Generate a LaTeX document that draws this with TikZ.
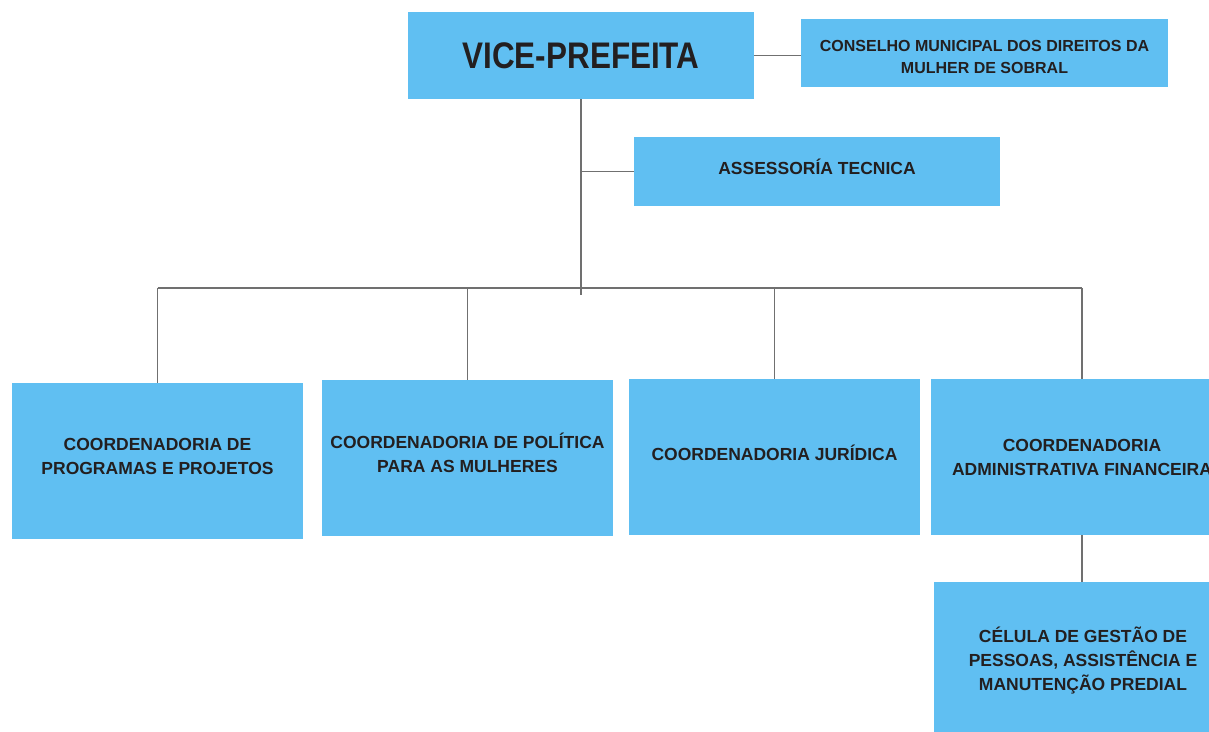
\documentclass[tikz,border=0pt]{standalone}
\usepackage{fontspec}
\setmainfont{Liberation Sans}
\newfontfamily\headfont[FakeStretch=0.85]{Liberation Sans}
\definecolor{boxblue}{RGB}{96,191,242}
\definecolor{linegray}{RGB}{112,112,112}
\definecolor{inkdark}{RGB}{35,31,32}
\tikzset{
	orgbox/.style={fill=boxblue, inner sep=0pt, align=center, text=inkdark,
		font=\bfseries\fontsize{17.5}{24}\selectfont},
	link/.style={draw=linegray, line width=1.3pt},
}

\begin{document}
\begin{tikzpicture}[x=1pt,y=-1pt]
	\clip (0,0) rectangle (1209,731);
	\fill[white] (0,0) rectangle (1209,731);
	% top
	\node[orgbox, minimum width=346pt, minimum height=87pt] (vp) at (581,55.5)
		{\headfont\bfseries\fontsize{37}{40}\selectfont VICE-PREFEITA};
	\node[orgbox, minimum width=367pt, minimum height=68pt, text height=41pt, font=\bfseries\fontsize{16}{22}\selectfont] (cons) at (984.5,53)
		{CONSELHO MUNICIPAL DOS DIREITOS DA\\MULHER DE SOBRAL};
	\node[orgbox, minimum width=366pt, minimum height=69pt, text depth=10pt] (asse) at (817,171.5) {ASSESSOR\'IA TECNICA};
	% coordenadorias
	\node[orgbox, minimum width=291pt, minimum height=156pt, text depth=9pt] (prog) at (157.5,461) {COORDENADORIA DE\\PROGRAMAS E PROJETOS};
	\node[orgbox, minimum width=291pt, minimum height=156pt, text depth=10pt] (pol) at (467.5,458) {COORDENADORIA DE POL\'ITICA\\PARA AS MULHERES};
	\node[orgbox, minimum width=291pt, minimum height=156pt, text depth=8pt] (jur) at (774.5,457) {COORDENADORIA JUR\'IDICA};
	\node[orgbox, minimum width=302pt, minimum height=156pt] (adm) at (1082,457) {COORDENADORIA\\ADMINISTRATIVA FINANCEIRA};
	\node[orgbox, minimum width=298pt, minimum height=158pt] (cel) at (1083,661) {C\'ELULA DE GEST\~AO DE\\PESSOAS, ASSIST\^ENCIA E\\MANUTEN\c{C}\~AO PREDIAL};
	\coordinate (bus) at (581,288);
	\coordinate (stem) at (581,295);
	% links
	\draw[link] (vp.east) -- (vp.east -| cons.west);
	\draw[link] (vp.south) -- (stem);
	\draw[link] (asse.west) -- (asse.west -| vp.south);
	\draw[link] (bus -| prog.north) -- (bus -| adm.north);
	\foreach \c in {prog,pol,jur,adm}
		\draw[link] (\c.north) -- (\c.north |- bus);
	\draw[link] (adm.south) -- (adm.south |- cel.north);
\end{tikzpicture}
\end{document}
